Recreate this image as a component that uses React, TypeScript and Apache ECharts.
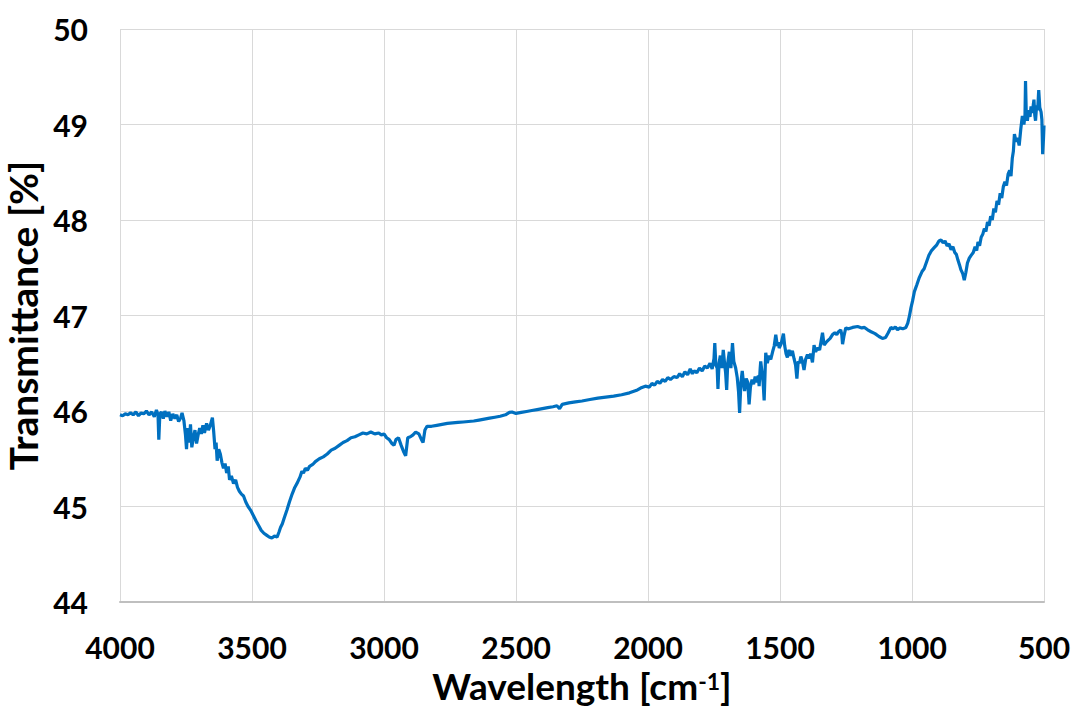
import React, { useEffect, useRef } from "react";
import * as echarts from "echarts";

const wavenumbers: number[] = [
  4000, 3990, 3980, 3970, 3960, 3950, 3940, 3930, 3920, 3910, 3900, 3890, 3880, 3870, 3862, 3856, 3853, 3849, 3843, 3836,
  3830, 3822, 3815, 3808, 3800, 3792, 3785, 3778, 3770, 3765, 3758, 3752, 3748, 3744, 3738, 3733, 3728, 3722, 3716, 3710,
  3704, 3698, 3692, 3686, 3680, 3672, 3665, 3658, 3650, 3645, 3640, 3636, 3632, 3626, 3620, 3614, 3608, 3602, 3596, 3590,
  3585, 3578, 3570, 3562, 3555, 3548, 3540, 3532, 3524, 3515, 3505, 3494, 3485, 3475, 3465, 3455, 3445, 3435, 3425, 3415,
  3405, 3398, 3392, 3385, 3378, 3368, 3358, 3348, 3338, 3328, 3318, 3311, 3305, 3298, 3290, 3282, 3270, 3260, 3245, 3230,
  3215, 3200, 3185, 3170, 3155, 3140, 3125, 3110, 3095, 3080, 3065, 3050, 3035, 3020, 3010, 3000, 2990, 2980, 2970, 2962,
  2955, 2945, 2935, 2925, 2918, 2910, 2900, 2890, 2880, 2868, 2858, 2852, 2845, 2837, 2820, 2800, 2780, 2760, 2740, 2720,
  2700, 2680, 2660, 2640, 2620, 2600, 2580, 2560, 2540, 2525, 2515, 2500, 2480, 2460, 2440, 2420, 2400, 2380, 2360, 2345,
  2335, 2325, 2300, 2275, 2250, 2220, 2190, 2160, 2130, 2100, 2070, 2040, 2028, 2010, 1995, 1985, 1975, 1965, 1955, 1945,
  1935, 1925, 1915, 1902, 1890, 1880, 1870, 1860, 1850, 1840, 1832, 1825, 1815, 1805, 1795, 1785, 1775, 1765, 1757, 1750,
  1747, 1743, 1738, 1735, 1731, 1726, 1720, 1715, 1710, 1706, 1702, 1698, 1692, 1686, 1680, 1675, 1668, 1662, 1657, 1653,
  1648, 1643, 1638, 1634, 1628, 1622, 1617, 1612, 1606, 1600, 1594, 1588, 1582, 1579, 1575, 1573, 1568, 1564, 1560, 1556,
  1554, 1548, 1542, 1535, 1528, 1522, 1516, 1510, 1506, 1503, 1496, 1487, 1482, 1477, 1472, 1466, 1460, 1453, 1447, 1441,
  1436, 1431, 1426, 1421, 1415, 1409, 1403, 1396, 1390, 1384, 1377, 1371, 1365, 1358, 1350, 1345, 1339, 1333, 1325, 1318,
  1310, 1301, 1292, 1285, 1278, 1270, 1266, 1263, 1258, 1251, 1240, 1225, 1206, 1190, 1180, 1168, 1155, 1140, 1125, 1112,
  1100, 1090, 1080, 1072, 1063, 1055, 1045, 1035, 1023, 1016, 1010, 1004, 998, 991, 982, 972, 962, 954, 945, 936,
  926, 916, 906, 898, 890, 882, 875, 867, 860, 852, 845, 838, 832, 826, 820, 815, 808, 802, 796, 790,
  783, 776, 768, 761, 755, 750, 744, 738, 732, 726, 720, 714, 708, 702, 696, 690, 684, 678, 672, 666,
  660, 654, 648, 642, 636, 630, 625, 620, 616, 612, 606, 600, 594, 588, 582, 576, 572, 570, 567, 563,
  558, 553, 549, 544, 540, 538, 535, 532, 528, 524, 520, 516, 511, 508, 505, 502, 500,
];

const transmittance: number[] = [
  45.96, 45.95, 45.97, 45.96, 45.98, 45.96, 45.99, 45.95, 45.98, 45.97, 46.0, 45.96, 45.99, 45.94, 46.01, 45.96, 45.7, 45.97, 45.99, 45.92,
  46.0, 45.94, 45.99, 45.9, 45.97, 45.92, 45.96, 45.89, 45.93, 45.98, 45.9, 45.75, 45.6, 45.82, 45.67, 45.86, 45.62, 45.72, 45.8, 45.66,
  45.75, 45.82, 45.76, 45.85, 45.77, 45.87, 45.8, 45.85, 45.93, 45.78, 45.6, 45.67, 45.48, 45.6, 45.55, 45.46, 45.4, 45.45, 45.35, 45.42,
  45.28, 45.32, 45.24, 45.28, 45.2, 45.16, 45.13, 45.11, 45.05, 45.0, 44.96, 44.9, 44.85, 44.8, 44.75, 44.72, 44.7, 44.68, 44.67, 44.69,
  44.68, 44.73, 44.78, 44.82, 44.88, 44.96, 45.05, 45.13, 45.2, 45.25, 45.31, 45.37, 45.35, 45.4, 45.38, 45.42, 45.44, 45.47, 45.5, 45.52,
  45.55, 45.59, 45.61, 45.64, 45.67, 45.69, 45.72, 45.73, 45.75, 45.77, 45.76, 45.78, 45.76, 45.77, 45.75, 45.76, 45.72, 45.7, 45.66, 45.64,
  45.7, 45.72, 45.64, 45.57, 45.53, 45.72, 45.73, 45.75, 45.78, 45.76, 45.7, 45.67, 45.8, 45.84, 45.84, 45.85, 45.86, 45.87, 45.875, 45.88,
  45.885, 45.89, 45.895, 45.905, 45.915, 45.925, 45.935, 45.945, 45.96, 45.985, 45.99, 45.975, 45.985, 45.995, 46.005, 46.015, 46.025, 46.035, 46.045, 46.055,
  46.025, 46.07, 46.085, 46.095, 46.105, 46.12, 46.135, 46.145, 46.155, 46.17, 46.19, 46.22, 46.24, 46.26, 46.25, 46.29, 46.27, 46.31, 46.29, 46.33,
  46.31, 46.35, 46.33, 46.36, 46.35, 46.39, 46.36, 46.41, 46.38, 46.44, 46.39, 46.42, 46.4, 46.45, 46.42, 46.47, 46.45, 46.5, 46.44, 46.55,
  46.71, 46.48, 46.45, 46.23, 46.5, 46.58, 46.45, 46.64, 46.5, 46.4, 46.22, 46.5, 46.62, 46.45, 46.71, 46.52, 46.45, 46.35, 46.2, 45.98,
  46.3, 46.42, 46.28, 46.21, 46.34, 46.3, 46.07, 46.25, 46.33, 46.28, 46.36, 46.3, 46.37, 46.26, 46.45, 46.52, 46.4, 46.3, 46.11, 46.45,
  46.61, 46.5, 46.58, 46.54, 46.62, 46.68, 46.8, 46.68, 46.72, 46.66, 46.7, 46.81, 46.68, 46.6, 46.56, 46.64, 46.58, 46.63, 46.55, 46.48,
  46.34, 46.52, 46.5, 46.57, 46.52, 46.43, 46.54, 46.59, 46.55, 46.6, 46.51, 46.69, 46.62, 46.66, 46.64, 46.72, 46.82, 46.69, 46.72, 46.74,
  46.76, 46.8, 46.82, 46.8, 46.83, 46.85, 46.8, 46.7, 46.78, 46.87, 46.86, 46.875, 46.885, 46.87, 46.875, 46.85, 46.83, 46.81, 46.78, 46.76,
  46.77, 46.82, 46.875, 46.86, 46.88, 46.85, 46.87, 46.86, 46.875, 46.92, 46.99, 47.08, 47.15, 47.25, 47.32, 47.4, 47.46, 47.49, 47.56, 47.63,
  47.68, 47.71, 47.74, 47.78, 47.79, 47.76, 47.78, 47.73, 47.75, 47.69, 47.72, 47.66, 47.64, 47.58, 47.53, 47.48, 47.44, 47.37, 47.45, 47.55,
  47.6, 47.63, 47.66, 47.72, 47.68, 47.77, 47.73, 47.82, 47.85, 47.91, 47.88, 47.98, 47.94, 48.04, 48.0, 48.12, 48.08, 48.2, 48.16, 48.28,
  48.23, 48.35, 48.4, 48.36, 48.48, 48.52, 48.46, 48.65, 48.72, 48.9, 48.82, 48.86, 48.78, 48.95, 49.09, 49.0, 49.1, 49.455, 49.1, 49.04,
  49.15, 49.08, 49.19, 49.12, 49.22, 49.26, 49.1, 49.04, 49.2, 49.15, 49.36, 49.18, 49.13, 49.05, 48.69, 48.85, 48.99,
];

const xTicks = { min: 500, max: 4000, interval: 500 };
const yTicks = { min: 44, max: 50, interval: 1 };

const FONT = "Lato, 'Liberation Sans', sans-serif";

export default function App() {
  const ref = useRef<HTMLDivElement>(null);
  useEffect(() => {
    if (!ref.current) return;
    const chart = echarts.init(ref.current, undefined, { renderer: "svg" });
    const data = wavenumbers.map((w, i) => [w, transmittance[i]]);
    chart.setOption({
      animation: false,
      backgroundColor: "#ffffff",
      grid: { left: 120, right: 31, top: 29, bottom: 104, containLabel: false, outerBoundsMode: "none" },
      xAxis: {
        type: "value",
        inverse: true,
        min: xTicks.min,
        max: xTicks.max,
        interval: xTicks.interval,
        name: "Wavelength [cm{sup|-1}]",
        nameLocation: "middle",
        nameGap: 60,
        nameTextStyle: {
          fontFamily: FONT,
          fontWeight: "bold",
          fontSize: 37,
          lineHeight: 32,
          color: "#000",
          rich: {
            sup: {
              fontFamily: FONT,
              fontWeight: "bold",
              fontSize: 23,
              lineHeight: 20,
              color: "#000",
              verticalAlign: "top",
              padding: [0, 0, 12, 0],
            },
          },
        },
        axisLine: { show: true, lineStyle: { color: "#bfbfbf", width: 2 } },
        axisTick: { show: false },
        axisLabel: {
          fontFamily: FONT,
          fontWeight: "bold",
          fontSize: 30,
          color: "#000",
          margin: 30,
          formatter: (v: number) => String(v),
        },
        splitLine: { show: true, lineStyle: { color: "#d9d9d9", width: 1 } },
      },
      yAxis: {
        type: "value",
        min: yTicks.min,
        max: yTicks.max,
        interval: yTicks.interval,
        name: "Transmittance [%]",
        nameLocation: "middle",
        nameGap: 68,
        nameTextStyle: { fontFamily: FONT, fontWeight: "bold", fontSize: 39, color: "#000" },
        axisLine: { show: false },
        axisTick: { show: false },
        axisLabel: {
          fontFamily: FONT,
          fontWeight: "bold",
          fontSize: 30,
          color: "#000",
          margin: 32,
          formatter: (v: number) => String(v),
        },
        splitLine: { show: true, lineStyle: { color: "#d9d9d9", width: 1 } },
      },
      series: [
        {
          type: "line",
          data,
          showSymbol: false,
          symbol: "none",
          lineStyle: { color: "#0070c0", width: 3.2 },
          itemStyle: { color: "#0070c0" },
        },
      ],
    });
    return () => chart.dispose();
  }, []);
  return <div ref={ref} style={{ width: 1075, height: 706, position: "absolute", left: 0, top: 0 }} />;
}
